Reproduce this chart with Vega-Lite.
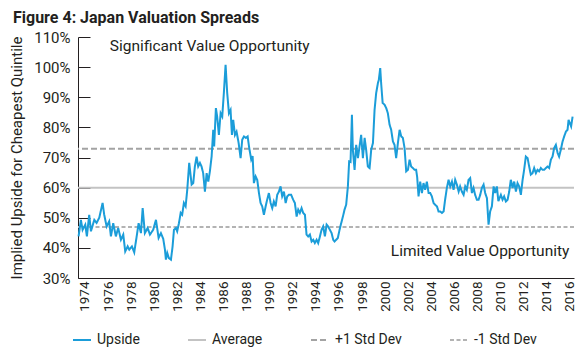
{
  "$schema": "https://vega.github.io/schema/vega-lite/v6.json",
  "width": 496,
  "height": 241,
  "autosize": "none",
  "padding": {"left": 78, "top": 37, "right": 6, "bottom": 76},
  "background": "white",
  "title": {
    "text": "Figure 4: Japan Valuation Spreads",
    "anchor": "start",
    "frame": "group",
    "dx": -65,
    "font": "Roboto",
    "fontSize": 16,
    "fontWeight": "bold",
    "color": "#231f20"
  },
  "config": {
    "view": {"stroke": null},
    "font": "Roboto",
    "axis": {
      "grid": false,
      "domainColor": "#231f20",
      "domainWidth": 1,
      "labelColor": "#231f20",
      "titleColor": "#231f20",
      "labelFont": "Roboto",
      "titleFont": "Roboto"
    },
    "axisX": {
      "labelOverlap": false,
      "labelBound": false,
      "labelAngle": -90,
      "labelFontSize": 13.5,
      "ticks": false,
      "labelPadding": 3
    }
  },
  "datasets": {
    "refs": [
      {"series": "Average", "v": 60.0},
      {"series": "+1 Std Dev", "v": 72.9},
      {"series": "-1 Std Dev", "v": 46.9}
    ],
    "notesLeft": [
      {"label": "Significant Value Opportunity", "t": 1976.16, "v": 105.3}
    ],
    "notesRight": [
      {"label": "Limited Value Opportunity", "t": 2015.95, "v": 37.2}
    ],
    "upside": [
      {"t": 1973.45, "v": 43.8}, {"t": 1973.65, "v": 49.3}, {"t": 1973.80, "v": 46.0}, {"t": 1974.03, "v": 47.7},
      {"t": 1974.17, "v": 43.8}, {"t": 1974.37, "v": 51.0}, {"t": 1974.52, "v": 45.5}, {"t": 1974.81, "v": 49.3},
      {"t": 1975.01, "v": 48.3}, {"t": 1975.24, "v": 50.0}, {"t": 1975.53, "v": 54.9}, {"t": 1975.67, "v": 51.0},
      {"t": 1975.88, "v": 47.1}, {"t": 1976.10, "v": 48.8}, {"t": 1976.25, "v": 43.8}, {"t": 1976.45, "v": 48.2},
      {"t": 1976.68, "v": 43.8}, {"t": 1976.88, "v": 46.6}, {"t": 1977.12, "v": 42.7}, {"t": 1977.32, "v": 44.4},
      {"t": 1977.49, "v": 38.8}, {"t": 1977.70, "v": 40.5}, {"t": 1977.84, "v": 39.4}, {"t": 1978.07, "v": 40.5},
      {"t": 1978.27, "v": 38.5}, {"t": 1978.48, "v": 43.8}, {"t": 1978.65, "v": 48.2}, {"t": 1978.85, "v": 44.9},
      {"t": 1979.00, "v": 53.2}, {"t": 1979.19, "v": 44.9}, {"t": 1979.43, "v": 46.6}, {"t": 1979.63, "v": 44.4},
      {"t": 1979.91, "v": 46.0}, {"t": 1980.15, "v": 49.3}, {"t": 1980.38, "v": 43.3}, {"t": 1980.58, "v": 44.9},
      {"t": 1980.78, "v": 43.0}, {"t": 1980.93, "v": 39.4}, {"t": 1981.01, "v": 36.1}, {"t": 1981.13, "v": 38.3},
      {"t": 1981.27, "v": 36.6}, {"t": 1981.45, "v": 36.1}, {"t": 1981.59, "v": 40.5}, {"t": 1981.71, "v": 46.0},
      {"t": 1981.88, "v": 46.6}, {"t": 1981.99, "v": 45.5}, {"t": 1982.14, "v": 48.2}, {"t": 1982.29, "v": 51.6},
      {"t": 1982.42, "v": 51.0}, {"t": 1982.57, "v": 54.9}, {"t": 1982.72, "v": 53.8}, {"t": 1982.86, "v": 59.3},
      {"t": 1983.03, "v": 68.2}, {"t": 1983.24, "v": 61.0}, {"t": 1983.38, "v": 61.5}, {"t": 1983.52, "v": 67.0},
      {"t": 1983.67, "v": 70.3}, {"t": 1983.81, "v": 67.0}, {"t": 1983.96, "v": 68.2}, {"t": 1984.10, "v": 67.0},
      {"t": 1984.24, "v": 64.8}, {"t": 1984.39, "v": 58.7}, {"t": 1984.54, "v": 64.8}, {"t": 1984.68, "v": 62.0},
      {"t": 1984.82, "v": 65.4}, {"t": 1984.97, "v": 70.3}, {"t": 1985.11, "v": 79.2}, {"t": 1985.19, "v": 73.7},
      {"t": 1985.34, "v": 86.4}, {"t": 1985.45, "v": 83.6}, {"t": 1985.60, "v": 77.5}, {"t": 1985.75, "v": 84.7},
      {"t": 1985.89, "v": 83.6}, {"t": 1986.03, "v": 91.4}, {"t": 1986.18, "v": 100.8}, {"t": 1986.32, "v": 91.4},
      {"t": 1986.47, "v": 84.7}, {"t": 1986.61, "v": 85.8}, {"t": 1986.73, "v": 77.5}, {"t": 1986.84, "v": 82.5},
      {"t": 1986.99, "v": 77.5}, {"t": 1987.13, "v": 78.6}, {"t": 1987.31, "v": 74.8}, {"t": 1987.48, "v": 69.8},
      {"t": 1987.62, "v": 75.9}, {"t": 1987.77, "v": 77.0}, {"t": 1987.94, "v": 76.5}, {"t": 1988.09, "v": 77.0},
      {"t": 1988.23, "v": 73.1}, {"t": 1988.40, "v": 69.3}, {"t": 1988.52, "v": 70.5}, {"t": 1988.63, "v": 61.5},
      {"t": 1988.78, "v": 63.7}, {"t": 1988.92, "v": 62.6}, {"t": 1989.07, "v": 58.2}, {"t": 1989.21, "v": 54.9},
      {"t": 1989.35, "v": 53.8}, {"t": 1989.50, "v": 51.0}, {"t": 1989.65, "v": 53.8}, {"t": 1989.78, "v": 56.0},
      {"t": 1989.93, "v": 58.2}, {"t": 1990.08, "v": 54.9}, {"t": 1990.22, "v": 53.2}, {"t": 1990.36, "v": 55.4},
      {"t": 1990.51, "v": 53.8}, {"t": 1990.65, "v": 57.6}, {"t": 1990.80, "v": 58.7}, {"t": 1990.94, "v": 60.4},
      {"t": 1991.08, "v": 57.1}, {"t": 1991.23, "v": 58.7}, {"t": 1991.38, "v": 54.9}, {"t": 1991.52, "v": 57.1},
      {"t": 1991.66, "v": 57.6}, {"t": 1991.86, "v": 57.6}, {"t": 1992.03, "v": 56.0}, {"t": 1992.18, "v": 54.9},
      {"t": 1992.33, "v": 50.4}, {"t": 1992.47, "v": 52.7}, {"t": 1992.61, "v": 51.6}, {"t": 1992.76, "v": 53.2},
      {"t": 1992.90, "v": 51.6}, {"t": 1993.05, "v": 51.0}, {"t": 1993.19, "v": 44.4}, {"t": 1993.33, "v": 43.8},
      {"t": 1993.48, "v": 44.4}, {"t": 1993.63, "v": 42.1}, {"t": 1993.77, "v": 42.7}, {"t": 1993.91, "v": 41.6},
      {"t": 1994.06, "v": 42.7}, {"t": 1994.20, "v": 41.6}, {"t": 1994.35, "v": 43.8}, {"t": 1994.49, "v": 46.0},
      {"t": 1994.63, "v": 47.1}, {"t": 1994.78, "v": 43.8}, {"t": 1994.93, "v": 47.7}, {"t": 1995.06, "v": 47.1},
      {"t": 1995.21, "v": 46.0}, {"t": 1995.36, "v": 44.9}, {"t": 1995.50, "v": 42.7}, {"t": 1995.62, "v": 42.1},
      {"t": 1995.76, "v": 42.7}, {"t": 1995.90, "v": 43.3}, {"t": 1996.05, "v": 46.0}, {"t": 1996.19, "v": 48.2},
      {"t": 1996.34, "v": 50.4}, {"t": 1996.48, "v": 52.7}, {"t": 1996.62, "v": 54.3}, {"t": 1996.77, "v": 60.4},
      {"t": 1996.88, "v": 68.7}, {"t": 1997.00, "v": 68.5}, {"t": 1997.12, "v": 84.2}, {"t": 1997.20, "v": 72.6},
      {"t": 1997.35, "v": 65.9}, {"t": 1997.49, "v": 74.2}, {"t": 1997.64, "v": 69.8}, {"t": 1997.78, "v": 73.7},
      {"t": 1997.92, "v": 77.5}, {"t": 1998.07, "v": 69.8}, {"t": 1998.22, "v": 76.5}, {"t": 1998.35, "v": 72.6},
      {"t": 1998.50, "v": 67.0}, {"t": 1998.65, "v": 66.5}, {"t": 1998.79, "v": 72.6}, {"t": 1998.94, "v": 74.8},
      {"t": 1999.08, "v": 85.8}, {"t": 1999.22, "v": 91.4}, {"t": 1999.37, "v": 94.7}, {"t": 1999.45, "v": 95.8},
      {"t": 1999.57, "v": 99.7}, {"t": 1999.65, "v": 94.7}, {"t": 1999.78, "v": 88.1}, {"t": 1999.95, "v": 87.5},
      {"t": 2000.09, "v": 86.4}, {"t": 2000.23, "v": 84.7}, {"t": 2000.38, "v": 80.9}, {"t": 2000.52, "v": 79.2},
      {"t": 2000.67, "v": 75.3}, {"t": 2000.81, "v": 74.2}, {"t": 2000.95, "v": 69.8}, {"t": 2001.10, "v": 74.8},
      {"t": 2001.25, "v": 79.2}, {"t": 2001.39, "v": 77.0}, {"t": 2001.53, "v": 76.5}, {"t": 2001.68, "v": 73.1},
      {"t": 2001.82, "v": 65.4}, {"t": 2001.97, "v": 65.9}, {"t": 2002.11, "v": 69.3}, {"t": 2002.25, "v": 67.0},
      {"t": 2002.40, "v": 66.5}, {"t": 2002.55, "v": 65.9}, {"t": 2002.68, "v": 65.9}, {"t": 2002.77, "v": 63.5},
      {"t": 2002.89, "v": 57.1}, {"t": 2003.03, "v": 62.0}, {"t": 2003.18, "v": 58.2}, {"t": 2003.32, "v": 61.5},
      {"t": 2003.46, "v": 59.3}, {"t": 2003.61, "v": 62.0}, {"t": 2003.76, "v": 58.2}, {"t": 2003.90, "v": 58.2},
      {"t": 2004.04, "v": 57.1}, {"t": 2004.19, "v": 54.9}, {"t": 2004.33, "v": 54.3}, {"t": 2004.48, "v": 53.8},
      {"t": 2004.62, "v": 52.1}, {"t": 2004.76, "v": 52.1}, {"t": 2004.91, "v": 51.6}, {"t": 2005.06, "v": 52.1},
      {"t": 2005.19, "v": 56.0}, {"t": 2005.34, "v": 59.9}, {"t": 2005.49, "v": 62.6}, {"t": 2005.63, "v": 60.4},
      {"t": 2005.78, "v": 62.0}, {"t": 2005.92, "v": 59.3}, {"t": 2006.06, "v": 62.6}, {"t": 2006.21, "v": 61.0},
      {"t": 2006.36, "v": 58.7}, {"t": 2006.49, "v": 60.4}, {"t": 2006.64, "v": 58.7}, {"t": 2006.79, "v": 57.6},
      {"t": 2006.93, "v": 60.4}, {"t": 2007.07, "v": 59.3}, {"t": 2007.22, "v": 62.6}, {"t": 2007.36, "v": 63.2},
      {"t": 2007.51, "v": 58.2}, {"t": 2007.65, "v": 59.9}, {"t": 2007.79, "v": 57.6}, {"t": 2007.94, "v": 56.0},
      {"t": 2008.09, "v": 56.0}, {"t": 2008.23, "v": 57.6}, {"t": 2008.37, "v": 59.9}, {"t": 2008.52, "v": 61.0},
      {"t": 2008.66, "v": 58.2}, {"t": 2008.81, "v": 56.5}, {"t": 2008.95, "v": 47.7}, {"t": 2009.09, "v": 52.1},
      {"t": 2009.24, "v": 53.8}, {"t": 2009.39, "v": 60.4}, {"t": 2009.52, "v": 58.2}, {"t": 2009.67, "v": 60.4},
      {"t": 2009.80, "v": 55.5}, {"t": 2010.02, "v": 57.6}, {"t": 2010.16, "v": 56.0}, {"t": 2010.30, "v": 57.1},
      {"t": 2010.45, "v": 55.4}, {"t": 2010.60, "v": 56.0}, {"t": 2010.74, "v": 58.7}, {"t": 2010.88, "v": 62.6},
      {"t": 2011.03, "v": 59.9}, {"t": 2011.17, "v": 62.0}, {"t": 2011.32, "v": 58.7}, {"t": 2011.46, "v": 61.5},
      {"t": 2011.60, "v": 60.4}, {"t": 2011.75, "v": 57.6}, {"t": 2011.90, "v": 62.6}, {"t": 2012.03, "v": 65.9},
      {"t": 2012.18, "v": 70.3}, {"t": 2012.33, "v": 69.8}, {"t": 2012.47, "v": 67.0}, {"t": 2012.61, "v": 64.3},
      {"t": 2012.76, "v": 64.8}, {"t": 2012.90, "v": 66.5}, {"t": 2013.05, "v": 64.8}, {"t": 2013.19, "v": 65.9},
      {"t": 2013.33, "v": 65.4}, {"t": 2013.48, "v": 66.5}, {"t": 2013.63, "v": 65.9}, {"t": 2013.77, "v": 65.9},
      {"t": 2013.91, "v": 66.5}, {"t": 2014.06, "v": 67.0}, {"t": 2014.20, "v": 66.5}, {"t": 2014.35, "v": 69.3},
      {"t": 2014.49, "v": 70.3}, {"t": 2014.63, "v": 73.1}, {"t": 2014.78, "v": 74.2}, {"t": 2014.93, "v": 71.5},
      {"t": 2015.06, "v": 70.3}, {"t": 2015.21, "v": 72.6}, {"t": 2015.36, "v": 75.3}, {"t": 2015.50, "v": 77.0},
      {"t": 2015.65, "v": 78.6}, {"t": 2015.79, "v": 79.2}, {"t": 2015.88, "v": 82.5}, {"t": 2015.99, "v": 81.4},
      {"t": 2016.10, "v": 80.3}, {"t": 2016.23, "v": 83.6}
    ]
  },
  "encoding": {
    "y": {
      "field": "v",
      "type": "quantitative",
      "scale": {"domain": [30, 110], "nice": false, "zero": false},
      "axis": {
        "values": [30, 40, 50, 60, 70, 80, 90, 100, 110],
        "labelExpr": "datum.value + '%'",
        "tickSize": -12,
        "tickColor": "#231f20",
        "tickWidth": 1,
        "labelPadding": 20,
        "labelFontSize": 15,
        "title": "Implied Upside for Cheapest Quintile",
        "titleFontSize": 15,
        "titleFontWeight": "normal",
        "titlePadding": 9
      }
    }
  },
  "layer": [
    {
      "data": {"name": "refs"},
      "mark": {"type": "rule", "strokeWidth": 2},
      "encoding": {
        "color": {
          "field": "series",
          "type": "nominal",
          "scale": {
            "domain": ["Upside", "Average", "+1 Std Dev", "-1 Std Dev"],
            "range": ["#1b9dd9", "#c3c3c3", "#a3a3a3", "#b3b3b3"]
          },
          "legend": {
            "orient": "none",
            "legendX": -6,
            "legendY": 293,
            "direction": "horizontal",
            "title": null,
            "symbolType": "stroke",
            "symbolSize": 324,
            "symbolStrokeWidth": 2,
            "labelFont": "Roboto",
            "labelFontSize": 14,
            "labelColor": "#231f20",
            "labelOffset": 5,
            "columnPadding": 44,
            "padding": 0
          }
        },
        "strokeDash": {
          "field": "series",
          "type": "nominal",
          "scale": {
            "domain": ["Upside", "Average", "+1 Std Dev", "-1 Std Dev"],
            "range": [[1, 0], [1, 0], [6, 3], [4, 2.5]]
          },
          "legend": {
            "orient": "none",
            "legendX": -6,
            "legendY": 293,
            "direction": "horizontal",
            "title": null,
            "symbolType": "stroke",
            "symbolSize": 324,
            "symbolStrokeWidth": 2,
            "labelFont": "Roboto",
            "labelFontSize": 14,
            "labelColor": "#231f20",
            "labelOffset": 5,
            "columnPadding": 44,
            "padding": 0
          }
        }
      }
    },
    {
      "data": {"name": "upside"},
      "mark": {"type": "line", "strokeWidth": 2, "interpolate": "linear"},
      "encoding": {
        "x": {
          "field": "t",
          "type": "quantitative",
          "scale": {"domain": [1973.4, 2016.35], "nice": false, "zero": false},
          "axis": {
            "values": [1974, 1976, 1978, 1980, 1982, 1984, 1986, 1988, 1990, 1992, 1994, 1996, 1998, 2000, 2002, 2004, 2006, 2008, 2010, 2012, 2014, 2016],
            "format": "d",
            "labelOverlap": false,
            "title": null
          }
        },
        "color": {"datum": "Upside"},
        "strokeDash": {"datum": "Upside"}
      }
    },
    {
      "data": {"name": "notesLeft"},
      "mark": {"type": "text", "align": "left", "baseline": "alphabetic", "fontSize": 15.5, "font": "Roboto", "color": "#231f20"},
      "encoding": {
        "x": {
          "field": "t",
          "type": "quantitative",
          "axis": {
            "values": [1974, 1976, 1978, 1980, 1982, 1984, 1986, 1988, 1990, 1992, 1994, 1996, 1998, 2000, 2002, 2004, 2006, 2008, 2010, 2012, 2014, 2016],
            "format": "d",
            "labelOverlap": false,
            "title": null
          }
        },
        "text": {"field": "label"}
      }
    },
    {
      "data": {"name": "notesRight"},
      "mark": {"type": "text", "align": "right", "baseline": "alphabetic", "fontSize": 15.5, "font": "Roboto", "color": "#231f20"},
      "encoding": {
        "x": {
          "field": "t",
          "type": "quantitative",
          "axis": {
            "values": [1974, 1976, 1978, 1980, 1982, 1984, 1986, 1988, 1990, 1992, 1994, 1996, 1998, 2000, 2002, 2004, 2006, 2008, 2010, 2012, 2014, 2016],
            "format": "d",
            "labelOverlap": false,
            "title": null
          }
        },
        "text": {"field": "label"}
      }
    }
  ]
}
